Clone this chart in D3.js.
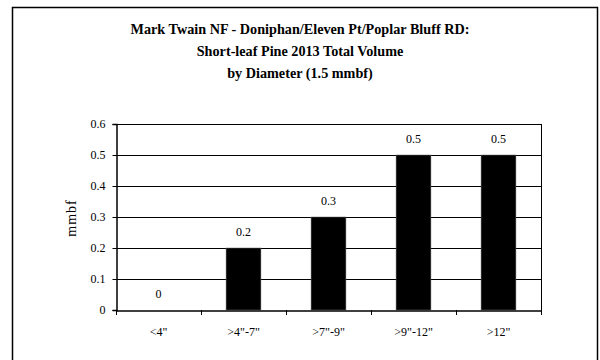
<!DOCTYPE html>
<html>
<head>
<meta charset="utf-8">
<script src="https://cdn.jsdelivr.net/npm/d3@7"></script>
<style>
  html, body { margin: 0; padding: 0; background: #fff; }
  svg { display: block; }
  text { font-family: "Liberation Serif", "Times New Roman", serif; fill: #000; }
</style>
</head>
<body>
<svg id="chart" width="600" height="360"></svg>
<script>
// Short-leaf pine volume by diameter class
const categories = ['<4"', '>4"-7"', '>7"-9"', '>9"-12"', '>12"'];
const volumes = [0, 0.2, 0.3, 0.5, 0.5];
const yTicks = [0, 0.1, 0.2, 0.3, 0.4, 0.5, 0.6];
const titleLines = [
  "Mark Twain NF - Doniphan/Eleven Pt/Poplar Bluff RD:",
  "Short-leaf Pine 2013 Total Volume",
  "by Diameter (1.5 mmbf)"
];
const yLabel = "mmbf";

const svg = d3.select("#chart");
const plot = { left: 116, right: 541, top: 124, bottom: 310 };

// outer frame
svg.append("rect")
  .attr("x", 12.5).attr("y", 7.5)
  .attr("width", 585).attr("height", 360)
  .attr("fill", "none").attr("stroke", "#000").attr("stroke-width", 1.5);

// title
svg.append("g").selectAll("text")
  .data(titleLines)
  .join("text")
  .attr("x", 300)
  .attr("y", (d, i) => 34 + i * 22)
  .attr("text-anchor", "middle")
  .attr("font-weight", "bold")
  .attr("font-size", 14.2)
  .text(d => d);

const x = d3.scaleBand().domain(categories).range([plot.left, plot.right]).paddingInner(0).paddingOuter(0);
const y = d3.scaleLinear().domain([0, 0.6]).range([plot.bottom, plot.top]);

// gridlines
svg.append("g").selectAll("line")
  .data(yTicks.filter(t => t > 0))
  .join("line")
  .attr("x1", plot.left).attr("x2", plot.right)
  .attr("y1", d => Math.round(y(d)) + 0.5).attr("y2", d => Math.round(y(d)) + 0.5)
  .attr("stroke", "#000").attr("stroke-width", 1);

// right edge of plot area
svg.append("line")
  .attr("x1", plot.right + 0.5).attr("x2", plot.right + 0.5)
  .attr("y1", plot.top).attr("y2", plot.bottom)
  .attr("stroke", "#000");

// bars
const barW = x.bandwidth() * 0.41;
svg.append("g").selectAll("rect")
  .data(volumes)
  .join("rect")
  .attr("x", (d, i) => x(categories[i]) + (x.bandwidth() - barW) / 2)
  .attr("y", d => y(d))
  .attr("width", barW)
  .attr("height", d => y(0) - y(d))
  .attr("fill", "#000")
  .attr("stroke", "#666").attr("stroke-width", 0.5);

// value labels
svg.append("g").selectAll("text")
  .data(volumes)
  .join("text")
  .attr("x", (d, i) => x(categories[i]) + x.bandwidth() / 2)
  .attr("y", d => y(d) - 12)
  .attr("text-anchor", "middle")
  .attr("font-size", 12)
  .text(d => d3.format("")(d));

// y axis
const yAxis = d3.axisLeft(y).tickValues(yTicks).tickSize(4).tickPadding(7).tickFormat(d3.format(""));
const gy = svg.append("g").attr("transform", `translate(${plot.left + 0.5},0)`).call(yAxis);
gy.select(".domain").attr("stroke", "#000").attr("stroke-width", 1.5);
gy.selectAll("text").attr("font-size", 12);

// x axis
const xAxis = d3.axisBottom(x).tickSize(0).tickPadding(17);
const gx = svg.append("g").attr("transform", `translate(0,${plot.bottom + 0.5})`).call(xAxis);
gx.select(".domain").attr("stroke", "#000").attr("stroke-width", 1.5);
gx.selectAll("text").attr("font-size", 12);
// category boundary ticks
svg.append("g").selectAll("line")
  .data(d3.range(categories.length + 1))
  .join("line")
  .attr("x1", i => Math.round(plot.left + i * x.bandwidth()) + 0.5)
  .attr("x2", i => Math.round(plot.left + i * x.bandwidth()) + 0.5)
  .attr("y1", plot.bottom).attr("y2", plot.bottom + 5)
  .attr("stroke", "#000");

// y axis title
svg.append("text")
  .attr("transform", `translate(76,218) rotate(-90)`)
  .attr("text-anchor", "middle")
  .attr("font-size", 14)
  .attr("letter-spacing", 1)
  .text(yLabel);
</script>
</body>
</html>
